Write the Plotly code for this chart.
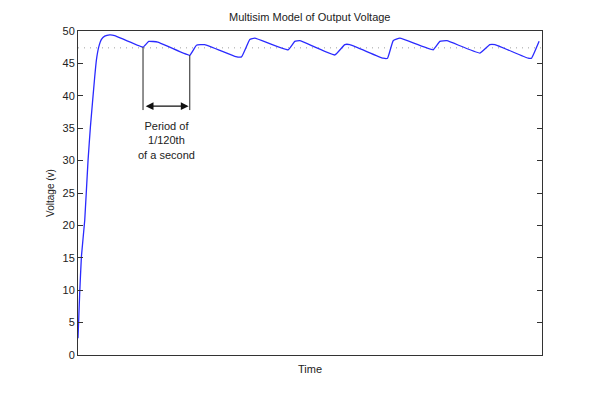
import plotly.graph_objects as go

# Time in ms, voltage in V
time_ms = [0, 0.29, 0.59, 1.16, 1.73, 2.14, 2.88, 3.17, 3.57, 4.04, 4.6, 5.47, 6.33,
           11.21, 12.2, 13.75, 19.27, 20.42, 21.86, 27.03, 28.19, 29.62, 30.48,
           36.23, 37.38, 38.24, 44.28, 46.0, 46.87, 52.61, 53.37, 54.34, 55.49,
           61.24, 62.4, 63.6, 69.3, 71.0, 71.9, 77.6, 78.2, 79.5]
voltage = [2.6, 9.5, 15.2, 20.8, 30.0, 35.2, 42.9, 45.5, 47.5, 48.7, 49.2, 49.4, 49.3,
           47.5, 48.4, 48.3, 46.25, 47.8, 47.9, 46.1, 46.0, 48.7, 48.9,
           47.1, 48.4, 48.5, 46.3, 47.9, 47.9, 45.8, 45.8, 48.5, 48.9,
           47.1, 48.4, 48.5, 46.6, 47.9, 47.9, 45.8, 45.8, 48.4]

x_range = [0, 80]
y_range = [0, 50]
y_ticks = [0, 5, 10, 15, 20, 25, 30, 35, 40, 45, 50]
avg_voltage = 47.4
period_start = 11.21
period_end = 19.27
period_start_top = 47.5
period_end_top = 46.25
marker_bottom = 37.8
arrow_level = 38.4
period_label = "Period of<br>1/120th<br>of a second"
label_level = 29.6

font = "Liberation Sans, Arial, sans-serif"

fig = go.Figure()
fig.add_trace(go.Scatter(x=x_range, y=[avg_voltage, avg_voltage], mode="lines",
                         line=dict(color="#a0a0a0", width=1, dash="1px,5px"),
                         hoverinfo="skip", showlegend=False))
fig.add_trace(go.Scatter(x=time_ms, y=voltage, mode="lines",
                         line=dict(color="#2a2aff", width=1.3, shape="spline", smoothing=0.3),
                         showlegend=False))

fig.add_shape(type="line", x0=period_start, x1=period_start, y0=marker_bottom, y1=period_start_top,
              xref="x", yref="y", line=dict(color="#222", width=1))
fig.add_shape(type="line", x0=period_end, x1=period_end, y0=marker_bottom, y1=period_end_top,
              xref="x", yref="y", line=dict(color="#222", width=1))
fig.add_annotation(x=period_end - 0.2, y=arrow_level, ax=period_start + 0.2, ay=arrow_level,
                   xref="x", yref="y", axref="x", ayref="y", text="", showarrow=True,
                   arrowhead=2, arrowside="end+start", arrowsize=1.3, arrowwidth=1.2,
                   arrowcolor="#111")
fig.add_annotation(x=(period_start + period_end) / 2, y=label_level, xref="x", yref="y",
                   text=period_label, showarrow=False, yanchor="bottom",
                   font=dict(family=font, size=11, color="#222"))

fig.update_layout(
    width=600, height=399,
    margin=dict(l=70, r=66, t=23, b=52),
    paper_bgcolor="white", plot_bgcolor="white",
    title=dict(text="Multisim Model of Output Voltage", x=0.503, xanchor="center",
               y=0.977, yanchor="middle", font=dict(family=font, size=11, color="#222")),
    font=dict(family=font, size=11, color="#222"),
)
fig.update_xaxes(range=x_range, showgrid=False, zeroline=False, showticklabels=False,
                 ticks="", showline=True, linecolor="#333", linewidth=1, mirror=True,
                 title=dict(text="Time", font=dict(size=11), standoff=10))
fig.update_yaxes(range=y_range, tickvals=y_ticks, showgrid=False, zeroline=False,
                 ticks="inside", ticklen=5, tickcolor="#333", showline=True,
                 linecolor="#333", linewidth=1, mirror="ticks",
                 tickfont=dict(size=11, color="#222"),
                 title=dict(text="Voltage (v)", font=dict(size=10), standoff=6))

fig.write_html("out.html")
